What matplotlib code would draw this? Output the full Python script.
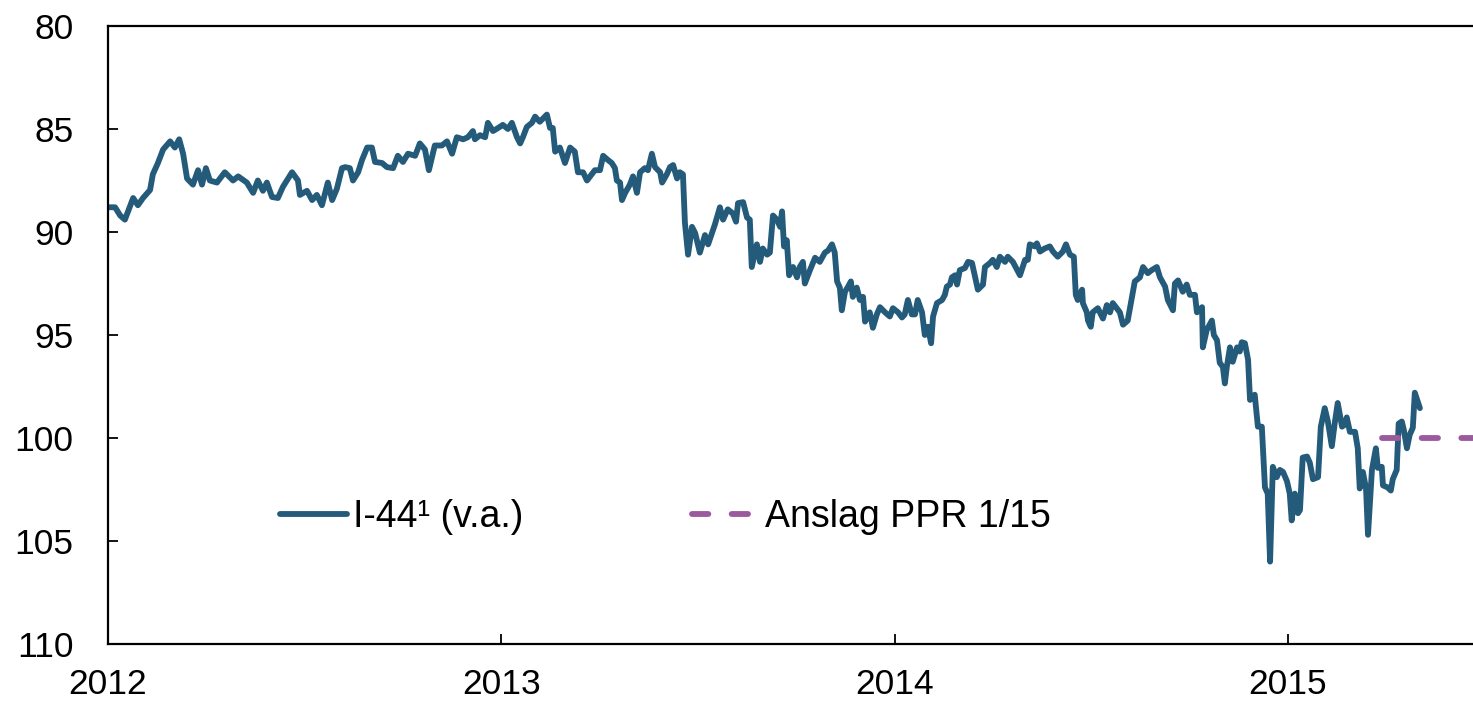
import matplotlib
matplotlib.use("Agg")
import matplotlib.pyplot as plt

# ---- Serie I-44 (v.a.), decimal years vs index level ----
years = [
    2012.000, 2012.018, 2012.031, 2012.043, 2012.064, 2012.076, 2012.089, 2012.107,
    2012.114, 2012.127, 2012.140, 2012.158, 2012.170, 2012.181, 2012.191, 2012.201,
    2012.216, 2012.229, 2012.239, 2012.249, 2012.259, 2012.277, 2012.297, 2012.318,
    2012.331, 2012.353, 2012.369, 2012.381, 2012.394, 2012.404, 2012.417, 2012.432,
    2012.445, 2012.468, 2012.483, 2012.488, 2012.506, 2012.519, 2012.531, 2012.544,
    2012.559, 2012.570, 2012.582, 2012.595, 2012.603, 2012.615, 2012.623, 2012.636,
    2012.646, 2012.659, 2012.671, 2012.679, 2012.697, 2012.709, 2012.725, 2012.737,
    2012.750, 2012.763, 2012.781, 2012.793, 2012.806, 2012.816, 2012.831, 2012.849,
    2012.862, 2012.875, 2012.887, 2012.903, 2012.915, 2012.928, 2012.933, 2012.946,
    2012.959, 2012.966, 2012.979, 2012.992, 2013.004, 2013.017, 2013.027, 2013.040,
    2013.048, 2013.055, 2013.065, 2013.078, 2013.086, 2013.098, 2013.116, 2013.124,
    2013.131, 2013.137, 2013.149, 2013.162, 2013.175, 2013.187, 2013.195, 2013.208,
    2013.218, 2013.226, 2013.238, 2013.251, 2013.259, 2013.271, 2013.281, 2013.289,
    2013.294, 2013.302, 2013.307, 2013.315, 2013.327, 2013.335, 2013.345, 2013.353,
    2013.365, 2013.373, 2013.383, 2013.391, 2013.404, 2013.409, 2013.421, 2013.429,
    2013.437, 2013.447, 2013.454, 2013.462, 2013.467, 2013.475, 2013.485, 2013.493,
    2013.505, 2013.518, 2013.526, 2013.536, 2013.543, 2013.556, 2013.564, 2013.576,
    2013.589, 2013.597, 2013.602, 2013.615, 2013.625, 2013.632, 2013.637, 2013.650,
    2013.658, 2013.665, 2013.676, 2013.683, 2013.691, 2013.701, 2013.709, 2013.714,
    2013.719, 2013.726, 2013.732, 2013.742, 2013.752, 2013.759, 2013.767, 2013.772,
    2013.785, 2013.798, 2013.810, 2013.823, 2013.831, 2013.841, 2013.848, 2013.854,
    2013.861, 2013.866, 2013.874, 2013.882, 2013.889, 2013.894, 2013.904, 2013.912,
    2013.920, 2013.925, 2013.937, 2013.945, 2013.955, 2013.963, 2013.976, 2013.988,
    2013.996, 2014.009, 2014.019, 2014.026, 2014.034, 2014.044, 2014.052, 2014.059,
    2014.070, 2014.077, 2014.085, 2014.093, 2014.098, 2014.108, 2014.121, 2014.128,
    2014.133, 2014.141, 2014.146, 2014.154, 2014.159, 2014.166, 2014.179, 2014.187,
    2014.197, 2014.204, 2014.212, 2014.225, 2014.230, 2014.243, 2014.250, 2014.260,
    2014.268, 2014.281, 2014.288, 2014.301, 2014.319, 2014.332, 2014.339, 2014.344,
    2014.357, 2014.362, 2014.370, 2014.382, 2014.395, 2014.403, 2014.415, 2014.428,
    2014.436, 2014.446, 2014.456, 2014.461, 2014.466, 2014.477, 2014.479, 2014.489,
    2014.492, 2014.499, 2014.504, 2014.517, 2014.530, 2014.540, 2014.548, 2014.555,
    2014.565, 2014.573, 2014.581, 2014.593, 2014.604, 2014.611, 2014.624, 2014.632,
    2014.644, 2014.654, 2014.667, 2014.675, 2014.688, 2014.695, 2014.708, 2014.713,
    2014.721, 2014.733, 2014.743, 2014.751, 2014.764, 2014.769, 2014.782, 2014.784,
    2014.794, 2014.807, 2014.812, 2014.820, 2014.827, 2014.835, 2014.840, 2014.845,
    2014.853, 2014.860, 2014.871, 2014.878, 2014.883, 2014.891, 2014.899, 2014.904,
    2014.916, 2014.924, 2014.934, 2014.942, 2014.949, 2014.955, 2014.962, 2014.972,
    2014.980, 2014.988, 2014.998, 2015.005, 2015.010, 2015.018, 2015.026, 2015.031,
    2015.038, 2015.049, 2015.056, 2015.064, 2015.077, 2015.084, 2015.094, 2015.102,
    2015.112, 2015.120, 2015.127, 2015.138, 2015.145, 2015.150, 2015.158, 2015.171,
    2015.178, 2015.183, 2015.191, 2015.199, 2015.204, 2015.214, 2015.224, 2015.229,
    2015.239, 2015.242, 2015.254, 2015.262, 2015.267, 2015.277, 2015.282, 2015.290,
    2015.295, 2015.303, 2015.310, 2015.318, 2015.323, 2015.336,
]
i44 = [
    88.8, 88.8, 89.2, 89.4, 88.35, 88.7, 88.35, 87.96,
    87.2, 86.65, 86.0, 85.6, 85.9, 85.5, 86.2, 87.4,
    87.7, 87.0, 87.7, 86.9, 87.5, 87.6, 87.1, 87.5,
    87.3, 87.6, 88.1, 87.5, 88.0, 87.6, 88.3, 88.35,
    87.8, 87.1, 87.5, 88.2, 88.0, 88.45, 88.2, 88.7,
    87.6, 88.45, 87.9, 86.9, 86.85, 86.9, 87.5, 87.1,
    86.5, 85.9, 85.9, 86.6, 86.65, 86.85, 86.9, 86.3,
    86.6, 86.2, 86.3, 85.7, 86.0, 87.0, 85.8, 85.8,
    85.6, 86.2, 85.4, 85.5, 85.4, 85.1, 85.5, 85.3,
    85.4, 84.7, 85.1, 84.95, 84.8, 85.0, 84.7, 85.4,
    85.7, 85.4, 84.9, 84.7, 84.4, 84.65, 84.3, 84.95,
    84.95, 86.1, 85.9, 86.65, 85.9, 86.1, 87.1, 87.1,
    87.5, 87.3, 87.0, 87.0, 86.3, 86.5, 86.65, 86.9,
    87.5, 87.6, 88.45, 88.1, 87.7, 87.3, 88.1, 87.1,
    86.9, 87.0, 86.2, 86.85, 87.1, 87.6, 87.2, 86.85,
    86.75, 87.4, 87.1, 87.2, 89.55, 91.1, 89.75, 90.05,
    91.0, 90.15, 90.6, 90.05, 89.65, 88.8, 89.4, 88.9,
    89.1, 89.5, 88.6, 88.55, 89.3, 89.4, 91.7, 90.6,
    91.45, 90.8, 91.1, 91.0, 89.2, 89.4, 89.75, 89.0,
    90.7, 90.4, 92.1, 91.7, 92.2, 91.7, 91.45, 92.5,
    91.85, 91.25, 91.45, 91.0, 90.9, 90.6, 91.0, 92.4,
    92.7, 93.8, 92.9, 92.65, 92.4, 93.15, 92.7, 93.3,
    93.15, 94.35, 93.9, 94.65, 94.0, 93.65, 93.9, 94.1,
    93.7, 93.9, 94.15, 94.0, 93.3, 94.0, 94.0, 93.3,
    93.9, 95.0, 94.6, 95.4, 94.1, 93.45, 93.3, 93.05,
    92.65, 92.55, 92.2, 92.1, 92.55, 91.85, 91.75, 91.45,
    91.5, 92.1, 92.8, 92.55, 91.7, 91.5, 91.35, 91.7,
    91.2, 91.45, 91.2, 91.45, 92.1, 91.35, 91.35, 90.6,
    90.7, 90.55, 90.95, 90.8, 90.7, 90.95, 91.2, 90.95,
    90.6, 91.1, 91.2, 93.05, 93.3, 92.8, 93.45, 93.9,
    94.3, 94.6, 93.9, 93.7, 94.2, 93.55, 93.9, 93.45,
    93.7, 93.9, 94.5, 94.3, 93.15, 92.4, 92.2, 91.7,
    92.0, 91.85, 91.7, 92.2, 92.65, 93.3, 93.8, 92.5,
    92.35, 92.9, 92.55, 93.05, 93.05, 93.9, 93.65, 95.6,
    94.75, 94.3, 95.0, 95.25, 96.35, 96.55, 97.35, 96.55,
    95.6, 96.3, 95.6, 95.8, 95.35, 95.4, 96.2, 98.15,
    97.9, 99.45, 99.45, 102.4, 102.7, 106.0, 101.4, 101.9,
    101.55, 101.65, 102.1, 102.7, 104.0, 102.7, 103.65, 103.5,
    100.95, 100.9, 101.2, 102.0, 101.9, 99.45, 98.55, 99.2,
    100.4, 99.2, 98.3, 99.45, 99.35, 99.0, 99.7, 99.7,
    100.5, 102.45, 101.65, 102.45, 104.7, 101.55, 100.5, 101.45,
    101.4, 102.3, 102.4, 102.55, 102.0, 101.55, 99.3, 99.2,
    99.6, 100.5, 99.85, 99.5, 97.8, 98.55,
]

# ---- Anslag PPR 1/15 ----
ppr_years = [2015.239, 2015.471]
ppr_level = [100, 100]

year_ticks = [2012, 2013, 2014, 2015]
level_ticks = [80, 85, 90, 95, 100, 105, 110]

plt.rcParams['font.family'] = ['Liberation Sans', 'DejaVu Sans']

fig = plt.figure(figsize=(14.73, 7.04), dpi=100)
ax = fig.add_axes([108/1473, 60/704, 1365/1473, 618/704])

ax.plot(years, i44, color='#245b7b', lw=4.2, solid_capstyle='round',
        solid_joinstyle='round', label='I-44\u00b9 (v.a.)')
ax.plot(ppr_years, ppr_level, color='#9b5a9e', lw=4.2, dashes=(2.8, 4.0),
        dash_capstyle='round', label='Anslag PPR 1/15')

ax.set_xlim(2012, 2015.471)
ax.set_ylim(110, 80)
ax.set_xticks(year_ticks)
ax.set_xticklabels([str(y) for y in year_ticks])
ax.set_yticks(level_ticks)

ax.spines['right'].set_visible(False)
for s in ['left', 'top', 'bottom']:
    ax.spines[s].set_linewidth(1.6)
ax.tick_params(axis='both', direction='in', length=7, width=1.3, labelsize=25.5)
ax.tick_params(axis='y', pad=25)
ax.tick_params(axis='x', pad=17)

ax.legend(loc='center left', bbox_to_anchor=(0.126, 0.205), ncol=2,
          frameon=False, fontsize=27, handlelength=1.8, handletextpad=0.15,
          columnspacing=4.5, borderpad=0, borderaxespad=0)

fig.savefig('out.png', dpi=100)
